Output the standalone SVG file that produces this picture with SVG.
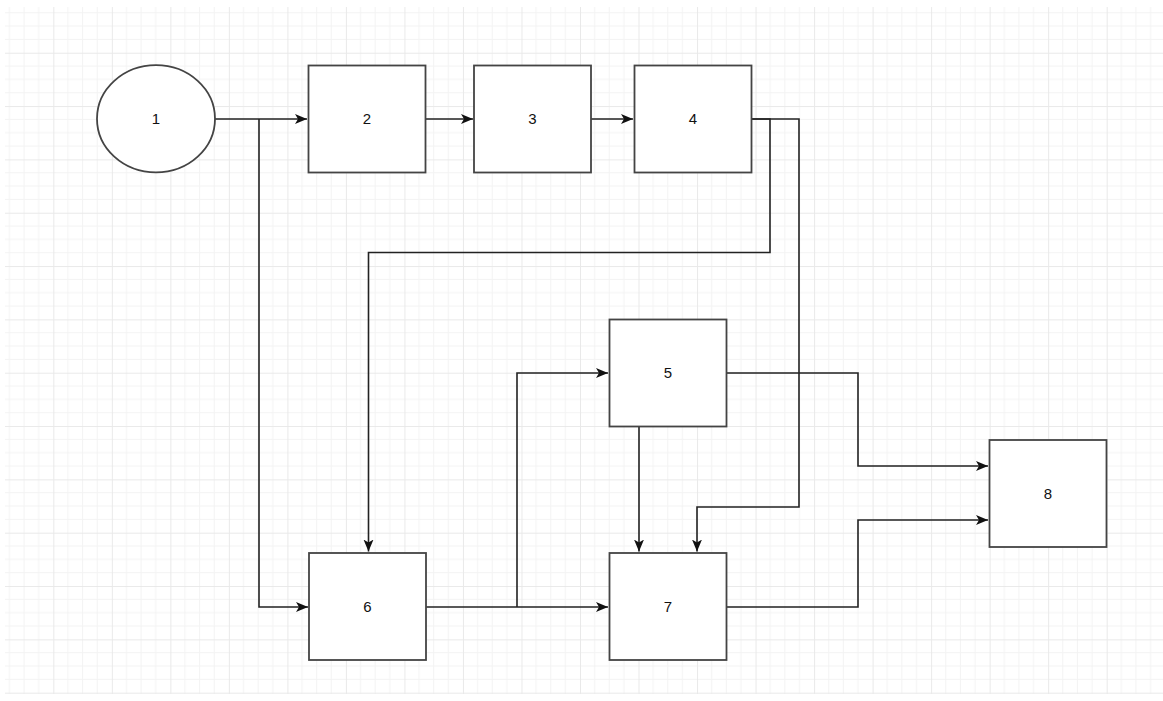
<svg xmlns="http://www.w3.org/2000/svg" width="1163" height="701" viewBox="0 0 1163 701">
  <defs>
    <pattern id="grid" patternUnits="userSpaceOnUse" x="-5.2" y="-0.6" width="58.52" height="53.33">
      <path d="M14.63,0V53.33M29.26,0V53.33M43.89,0V53.33M0,13.33H58.52M0,26.67H58.52M0,40H58.52" stroke="#f3f3f3" stroke-width="1" fill="none"/>
      <path d="M0.5,0V53.33M0,0.5H58.52" stroke="#e9e9e9" stroke-width="1" fill="none"/>
    </pattern>
    <marker id="arr" markerUnits="userSpaceOnUse" markerWidth="14" markerHeight="12" refX="12" refY="6" orient="auto" viewBox="0 0 14 12">
      <path d="M0,1 L12,6 L0,11 L3,6 z" fill="#111"/>
    </marker>
    <style>
      .box { fill: #ffffff; stroke: #444444; stroke-width: 1.8; }
      .lbl { font-family: "Liberation Sans", Arial, sans-serif; font-size: 15px; fill: #111111; text-anchor: middle; }
      .con { fill: none; stroke: #222222; stroke-width: 1.6; }
    </style>
  </defs>
  <rect x="0" y="0" width="1163" height="701" fill="#ffffff"/>
  <rect x="5" y="7" width="1158" height="687" fill="url(#grid)"/>

  <g id="connectors">
    <path class="con" d="M215,119 H307" marker-end="url(#arr)"/>
    <path class="con" d="M259,119 V607 H308" marker-end="url(#arr)"/>
    <path class="con" d="M426,119 H473" marker-end="url(#arr)"/>
    <path class="con" d="M591,119 H633" marker-end="url(#arr)"/>
    <path class="con" d="M752,119 H770 V252.5 H368.5 V551.5" marker-end="url(#arr)"/>
    <path class="con" d="M752,119 H799 V507 H697 V551.5" marker-end="url(#arr)"/>
    <path class="con" d="M426,607 H608" marker-end="url(#arr)"/>
    <path class="con" d="M517,607 V373 H608" marker-end="url(#arr)"/>
    <path class="con" d="M639,427 V551.5" marker-end="url(#arr)"/>
    <path class="con" d="M726,373 H858 V466 H988" marker-end="url(#arr)"/>
    <path class="con" d="M726,607 H858 V520 H988" marker-end="url(#arr)"/>
  </g>

  <g id="node1">
    <ellipse class="box" cx="156" cy="118.7" rx="59" ry="53.6"/>
    <text class="lbl" x="156" y="124">1</text>
  </g>
  <g id="node2">
    <rect class="box" x="308.5" y="65.5" width="117" height="107"/>
    <text class="lbl" x="367" y="124">2</text>
  </g>
  <g id="node3">
    <rect class="box" x="474" y="65.5" width="117" height="107"/>
    <text class="lbl" x="532.5" y="124">3</text>
  </g>
  <g id="node4">
    <rect class="box" x="634.5" y="65.5" width="117" height="107"/>
    <text class="lbl" x="693" y="124">4</text>
  </g>
  <g id="node5">
    <rect class="box" x="609.5" y="319.5" width="117" height="107"/>
    <text class="lbl" x="668" y="378">5</text>
  </g>
  <g id="node6">
    <rect class="box" x="309" y="553" width="117" height="107"/>
    <text class="lbl" x="367.5" y="612">6</text>
  </g>
  <g id="node7">
    <rect class="box" x="609.5" y="553" width="117" height="107"/>
    <text class="lbl" x="668" y="612">7</text>
  </g>
  <g id="node8">
    <rect class="box" x="989.5" y="440" width="117" height="107"/>
    <text class="lbl" x="1048" y="499">8</text>
  </g>
</svg>
